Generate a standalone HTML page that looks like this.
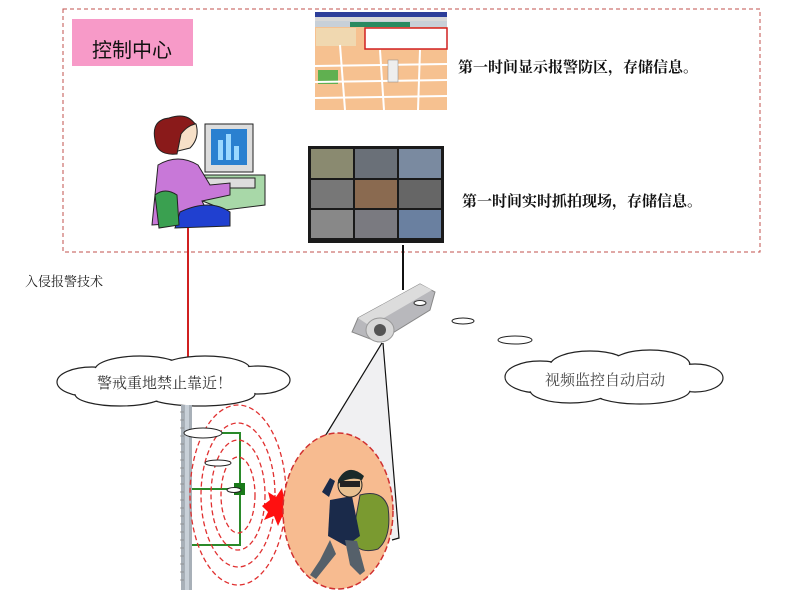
<!DOCTYPE html>
<html><head><meta charset="utf-8"><style>
body{margin:0;background:#fff;width:800px;height:610px;overflow:hidden}
svg{display:block}
</style></head><body>
<svg width="800" height="610" viewBox="0 0 800 610" xmlns="http://www.w3.org/2000/svg" font-family="Liberation Serif, Noto Serif CJK SC, serif">
<rect x="63" y="9" width="697" height="243" fill="none" stroke="#c0504d" stroke-width="1" stroke-dasharray="4,3"/>
<rect x="72" y="19" width="121" height="47" fill="#f79ac8"/>
<text x="92" y="57" font-size="20" fill="#111" font-family="Liberation Sans, Noto Sans CJK SC, sans-serif">控制中心</text>

<g>
<rect x="315" y="12" width="132" height="98" fill="#f6c190"/>
<rect x="315" y="12" width="132" height="5" fill="#2c3e9a"/>
<rect x="315" y="17" width="132" height="4" fill="#d8d8d8"/>
<rect x="315" y="21" width="132" height="6" fill="#c8d0d8"/>
<rect x="350" y="22" width="60" height="5" fill="#2a8a60"/>
<rect x="316" y="28" width="40" height="18" fill="#f0d8b0"/>
<rect x="365" y="28" width="82" height="21" fill="#fff" stroke="#d02020" stroke-width="1.5"/>
<rect x="318" y="70" width="20" height="14" fill="#60b050"/>
<g stroke="#fff" stroke-width="2" fill="none">
<line x1="315" y1="66" x2="447" y2="64"/><line x1="315" y1="82" x2="447" y2="80"/><line x1="340" y1="45" x2="345" y2="110"/><line x1="380" y1="50" x2="384" y2="110"/><line x1="420" y1="50" x2="418" y2="110"/><line x1="315" y1="98" x2="447" y2="96"/></g>
<rect x="388" y="60" width="10" height="22" fill="#eee" stroke="#888" stroke-width="0.5"/>
</g>
<text x="458" y="72" font-size="15" font-weight="bold" fill="#111">第一时间显示报警防区，存储信息。</text>

<rect x="308" y="146" width="136" height="97" fill="#1a1a1a"/>
<g>
<rect x="311" y="149" width="42" height="29" fill="#8a8a70"/><rect x="355" y="149" width="42" height="29" fill="#6a7078"/><rect x="399" y="149" width="42" height="29" fill="#7a8aa0"/>
<rect x="311" y="180" width="42" height="28" fill="#777"/><rect x="355" y="180" width="42" height="28" fill="#8a6a50"/><rect x="399" y="180" width="42" height="28" fill="#666"/>
<rect x="311" y="210" width="42" height="28" fill="#888"/><rect x="355" y="210" width="42" height="28" fill="#7a7a80"/><rect x="399" y="210" width="42" height="28" fill="#6a80a0"/>
</g>
<text x="462" y="206" font-size="15" font-weight="bold" fill="#111">第一时间实时抓拍现场，存储信息。</text>

<g>
<rect x="205" y="124" width="48" height="48" fill="#ddd" stroke="#222"/>
<rect x="211" y="129" width="36" height="36" fill="#2a80d0"/>
<rect x="218" y="140" width="5" height="20" fill="#9ad8ff"/><rect x="226" y="134" width="5" height="26" fill="#9ad8ff"/><rect x="234" y="146" width="5" height="14" fill="#9ad8ff"/>
<polygon points="200,175 265,175 265,205 225,210 200,200" fill="#a8d8a8" stroke="#222"/>
<rect x="205" y="178" width="50" height="10" fill="#ddd" stroke="#222"/>
<path d="M168,128 q12,-14 28,-4 q4,14 -6,24 l-16,4 q-10,-10 -6,-24z" fill="#f6e0c8" stroke="#222"/>
<path d="M155,140 q-4,-20 14,-22 q18,-6 26,6 q-8,2 -14,10 l-4,20 q-20,2 -22,-14z" fill="#8a1a1a" stroke="#222"/>
<path d="M158,165 q20,-12 40,0 l12,20 l20,-2 l0,12 l-28,6 l10,20 l-60,4z" fill="#c878d8" stroke="#222"/>
<path d="M180,212 q30,-14 50,0 l0,14 l-55,2z" fill="#2040d0" stroke="#222"/>
<path d="M155,195 q10,-8 22,0 l2,30 l-20,3z" fill="#3aa050" stroke="#222"/>
</g>
<line x1="188" y1="228" x2="188" y2="365" stroke="#d02020" stroke-width="2"/>
<line x1="403" y1="245" x2="403" y2="290" stroke="#111" stroke-width="2"/>
<text x="25" y="286" font-size="13" fill="#222">入侵报警技术</text>

<polygon points="382,343 324,438 360,470 392,540 399,538" fill="#f0f0f2"/>
<line x1="382" y1="343" x2="324" y2="438" stroke="#111" stroke-width="1.2"/>
<polyline points="383,343 399,538 392,540" fill="none" stroke="#111" stroke-width="1.2"/>

<g>
<polygon points="358,318 420,284 435,292 430,310 378,342 352,332" fill="#b8b8bc" stroke="#888"/>
<polygon points="358,318 420,284 432,290 370,326" fill="#dcdcdc"/>
<ellipse cx="380" cy="330" rx="14" ry="12" fill="#d8d8d8" stroke="#999"/>
<circle cx="380" cy="330" r="6" fill="#555"/>
<ellipse cx="420" cy="303" rx="6" ry="2.5" fill="#fff" stroke="#333"/>
</g>

<g fill="#fff" stroke="#222" stroke-width="1">
<ellipse cx="463" cy="321" rx="11" ry="3"/>
<ellipse cx="515" cy="340" rx="17" ry="4"/>
</g>
<g stroke="#222" stroke-width="1.2" fill="#fff">
<ellipse cx="540" cy="377" rx="35" ry="16"/><ellipse cx="590" cy="366" rx="40" ry="15"/><ellipse cx="650" cy="365" rx="40" ry="15"/><ellipse cx="695" cy="378" rx="28" ry="14"/><ellipse cx="640" cy="390" rx="50" ry="14"/><ellipse cx="570" cy="390" rx="40" ry="13"/>
</g>
<g fill="#fff">
<ellipse cx="540" cy="377" rx="34" ry="15"/><ellipse cx="590" cy="366" rx="39" ry="14"/><ellipse cx="650" cy="365" rx="39" ry="14"/><ellipse cx="695" cy="378" rx="27" ry="13"/><ellipse cx="640" cy="390" rx="49" ry="13"/><ellipse cx="570" cy="390" rx="39" ry="12"/>
<ellipse cx="615" cy="378" rx="85" ry="14"/>
</g>
<text x="545" y="385" font-size="15" fill="#444">视频监控自动启动</text>

<g stroke="#222" stroke-width="1.2" fill="#fff">
<ellipse cx="92" cy="382" rx="35" ry="15"/><ellipse cx="140" cy="370" rx="45" ry="14"/><ellipse cx="205" cy="369" rx="45" ry="13"/><ellipse cx="258" cy="380" rx="32" ry="14"/><ellipse cx="200" cy="394" rx="55" ry="12"/><ellipse cx="120" cy="394" rx="45" ry="12"/>
</g>
<g fill="#fff">
<ellipse cx="92" cy="382" rx="34" ry="14"/><ellipse cx="140" cy="370" rx="44" ry="13"/><ellipse cx="205" cy="369" rx="44" ry="12"/><ellipse cx="258" cy="380" rx="31" ry="13"/><ellipse cx="200" cy="394" rx="54" ry="11"/><ellipse cx="120" cy="394" rx="44" ry="11"/>
<ellipse cx="175" cy="382" rx="105" ry="14"/>
</g>
<text x="97" y="388" font-size="15" fill="#333">警戒重地禁止靠近！</text>

<rect x="181" y="405" width="11" height="185" fill="#a8b0b8"/>
<rect x="185" y="405" width="4" height="185" fill="#c8d0d8"/>
<g stroke="#888" stroke-width="0.7">
<path d="M180,412h4M180,420h4M180,428h4M180,436h4M180,444h4M180,452h4M180,460h4M180,468h4M180,476h4M180,484h4M180,492h4M180,500h4M180,508h4M180,516h4M180,524h4M180,532h4M180,540h4M180,548h4M180,556h4M180,564h4M180,572h4M180,580h4"/>
</g>
<g stroke="#2a8a2a" stroke-width="2" fill="none">
<polyline points="192,433 240,433 240,545 192,545"/>
<line x1="192" y1="489" x2="240" y2="489"/>
</g>
<rect x="234" y="483" width="11" height="12" fill="#1a7a1a"/>
<g fill="none" stroke="#e03030" stroke-width="1.3" stroke-dasharray="5,3">
<ellipse cx="238" cy="495" rx="48" ry="90"/>
<ellipse cx="238" cy="495" rx="37" ry="72"/>
<ellipse cx="238" cy="495" rx="27" ry="55"/>
<ellipse cx="238" cy="495" rx="17" ry="38"/>
</g>
<g fill="#fff" stroke="#222">
<ellipse cx="203" cy="433" rx="19" ry="5"/>
<ellipse cx="218" cy="463" rx="13" ry="3"/>
<ellipse cx="234" cy="490" rx="7" ry="2.5"/>
</g>
<polygon points="262,506 270,500 268,492 276,497 282,488 284,498 294,496 288,504 296,510 287,512 292,522 282,517 278,526 274,516 264,520 268,512" fill="#ff1010"/>
<ellipse cx="338" cy="511" rx="55" ry="78" fill="#f7bb90" stroke="#d03030" stroke-width="1.5" stroke-dasharray="6,3"/>
<g>
<path d="M360,495 q22,-6 28,12 q4,30 -10,42 q-20,6 -26,-10z" fill="#7a9a30" stroke="#334"/>
<path d="M330,500 l22,-4 l8,40 l-14,10 l-18,-10z" fill="#1a2a4a"/>
<path d="M330,540 l-10,20 l-10,15 l6,4 l20,-25z" fill="#55606a"/>
<path d="M345,540 l5,25 l10,10 l5,-4 l-8,-30z" fill="#55606a"/>
<circle cx="350" cy="485" r="12" fill="#e8c090" stroke="#222"/>
<path d="M338,480 q10,-18 26,-4 l-2,4 q-12,-4 -24,4z" fill="#1a2a2a"/>
<rect x="340" y="481" width="20" height="6" fill="#222"/>
<path d="M322,492 l8,-14 l5,3 l-6,16z" fill="#1a2a4a"/>
</g>
</svg>
</body></html>
